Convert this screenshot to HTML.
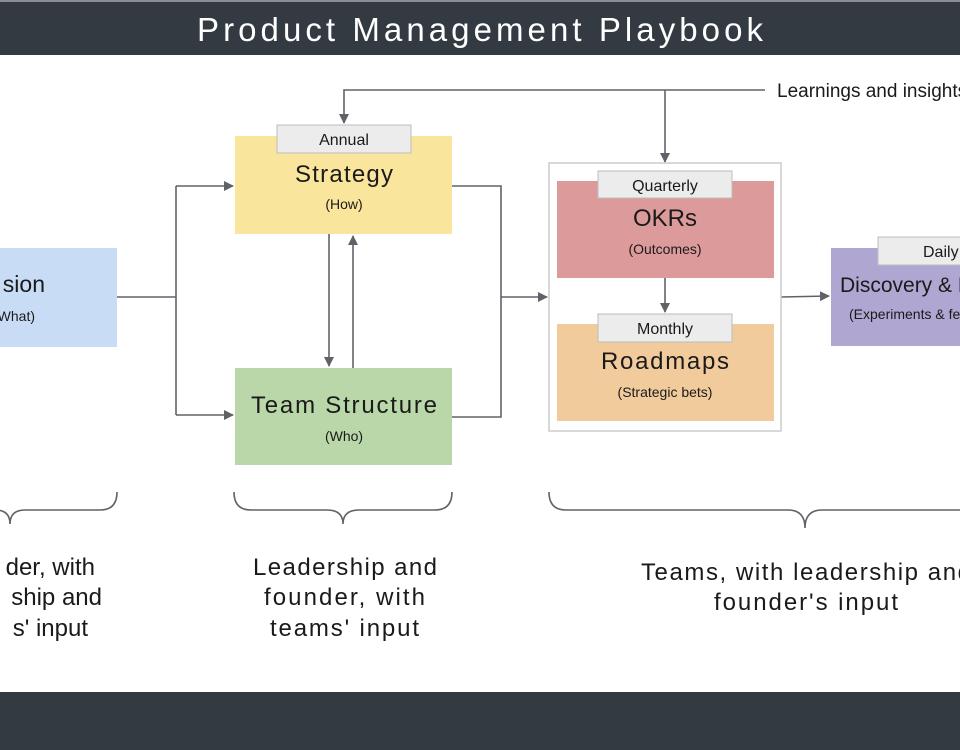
<!DOCTYPE html>
<html><head><meta charset="utf-8"><style>
html,body{margin:0;padding:0;background:#fff;width:960px;height:750px;overflow:hidden}
svg{display:block}
text{font-family:"Liberation Sans",sans-serif;fill:#1a1a1a}
</style></head><body>
<svg width="960" height="750" viewBox="0 0 960 750" xmlns="http://www.w3.org/2000/svg">
<defs><marker id="a" markerWidth="10" markerHeight="10" refX="9" refY="5" orient="auto" markerUnits="userSpaceOnUse"><path d="M0,0 L10,5 L0,10 z" fill="#5f6368"/></marker></defs>
<rect x="0" y="0" width="960" height="55" fill="#343a42"/>
<rect x="0" y="0" width="960" height="2" fill="#8a8f95"/>
<text x="197" y="41" font-size="33" textLength="566" lengthAdjust="spacing" style="fill:#fff">Product Management Playbook</text>
<rect x="0" y="692" width="960" height="58" fill="#343a42"/>

<g stroke="#5f6368" stroke-width="1.6" fill="none">
<path d="M117,297 H176"/>
<path d="M176,186 V415"/>
<path d="M176,186 H233" marker-end="url(#a)"/>
<path d="M176,415 H233" marker-end="url(#a)"/>
<path d="M452,186 H501 V417 H452"/>
<path d="M501,297 H547" marker-end="url(#a)"/>
<path d="M329,234 V366" marker-end="url(#a)"/>
<path d="M353,368 V236" marker-end="url(#a)"/>
<path d="M765,90 H344 V123" marker-end="url(#a)"/>
<path d="M665,90 V162" marker-end="url(#a)"/>
<path d="M781,297 L829,296" marker-end="url(#a)"/>
<path d="M117,492 Q117,510 100,510 H25 Q10,510 10,524 Q10,510 -5,510"/>
<path d="M234,492 Q234,510 251,510 H327 Q343,510 343,524 Q343,510 359,510 H435 Q452,510 452,492"/>
<path d="M549,492 Q549,510 566,510 H788 Q805,510 805,528 Q805,510 822,510 H960"/>
</g>

<rect x="-10" y="248" width="127" height="99" fill="#c9dcf5"/>
<text x="45" y="292" text-anchor="end" font-size="23">sion</text>
<text x="35" y="321" text-anchor="end" font-size="14">What)</text>

<rect x="235" y="136" width="217" height="98" fill="#fae59d"/>
<rect x="277" y="125" width="134" height="28" fill="#ececec" stroke="#bdbdbd"/>
<text x="344" y="145" text-anchor="middle" font-size="16">Annual</text>
<text x="295" y="182" font-size="24" textLength="98" lengthAdjust="spacing">Strategy</text>
<text x="344" y="209" text-anchor="middle" font-size="14">(How)</text>

<rect x="235" y="368" width="217" height="97" fill="#b9d7a8"/>
<text x="251" y="413" font-size="24" textLength="186" lengthAdjust="spacing">Team Structure</text>
<text x="344" y="441" text-anchor="middle" font-size="14">(Who)</text>

<rect x="549" y="163" width="232" height="268" fill="#fff" stroke="#cccccc" stroke-width="1.5"/>
<rect x="557" y="181" width="217" height="97" fill="#dd9a9a"/>
<rect x="598" y="171" width="134" height="27" fill="#ececec" stroke="#bdbdbd"/>
<text x="665" y="191" text-anchor="middle" font-size="16">Quarterly</text>
<text x="633" y="226" font-size="24" textLength="64" lengthAdjust="spacing">OKRs</text>
<text x="665" y="254" text-anchor="middle" font-size="14">(Outcomes)</text>
<path d="M665,278 V312" stroke="#5f6368" stroke-width="1.6" marker-end="url(#a)"/>
<rect x="557" y="324" width="217" height="97" fill="#f1cb9c"/>
<rect x="598" y="314" width="134" height="28" fill="#ececec" stroke="#bdbdbd"/>
<text x="665" y="334" text-anchor="middle" font-size="16">Monthly</text>
<text x="601" y="369" font-size="24" textLength="128" lengthAdjust="spacing">Roadmaps</text>
<text x="665" y="397" text-anchor="middle" font-size="14">(Strategic bets)</text>

<rect x="831" y="248" width="140" height="98" fill="#b0a6d2"/>
<rect x="878" y="237" width="100" height="28" fill="#ececec" stroke="#bdbdbd"/>
<text x="923" y="257" font-size="16">Daily</text>
<text x="840" y="292" font-size="21">Discovery &amp; Delivery</text>
<text x="849" y="319" font-size="14">(Experiments &amp; features)</text>

<text x="777" y="97" font-size="19">Learnings and insights</text>

<g font-size="24">
<text x="95" y="575" text-anchor="end">der, with</text>
<text x="102" y="605" text-anchor="end">ship and</text>
<text x="88" y="636" text-anchor="end">s' input</text>
<text x="253" y="575" textLength="184" lengthAdjust="spacing">Leadership and</text>
<text x="264" y="605" textLength="161" lengthAdjust="spacing">founder, with</text>
<text x="270" y="636" textLength="149" lengthAdjust="spacing">teams' input</text>
<text x="641" y="580" textLength="330" lengthAdjust="spacing">Teams, with leadership and</text>
<text x="714" y="610" textLength="184" lengthAdjust="spacing">founder's input</text>
</g>
</svg>
</body></html>
